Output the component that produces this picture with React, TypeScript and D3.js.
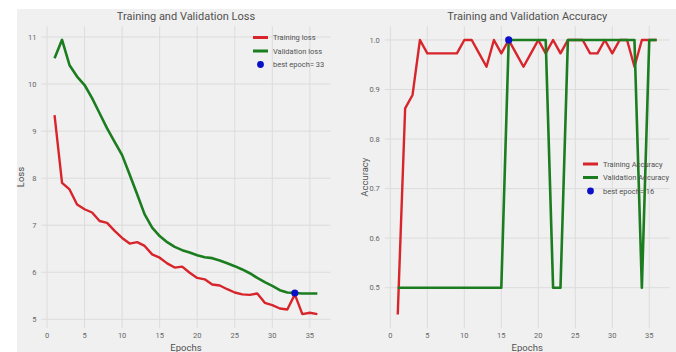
import React from 'react';
import * as d3 from 'd3';

// values
const epochs = d3.range(1, 37);
const trainLoss = [9.34, 7.9, 7.76, 7.44, 7.34, 7.27, 7.09, 7.05, 6.88, 6.73, 6.61, 6.64, 6.56, 6.38, 6.31, 6.19, 6.1, 6.12, 5.99, 5.88, 5.85, 5.74, 5.72, 5.64, 5.57, 5.53, 5.52, 5.55, 5.35, 5.3, 5.23, 5.21, 5.53, 5.11, 5.14, 5.11];
const valLoss = [10.55, 10.94, 10.4, 10.16, 9.98, 9.7, 9.38, 9.06, 8.77, 8.49, 8.08, 7.66, 7.23, 6.95, 6.77, 6.64, 6.54, 6.47, 6.42, 6.36, 6.32, 6.3, 6.25, 6.19, 6.13, 6.06, 5.98, 5.88, 5.79, 5.71, 5.62, 5.57, 5.56, 5.55, 5.55, 5.55];
const trainAcc = [0.446, 0.862, 0.889, 1.0, 0.973, 0.973, 0.973, 0.973, 0.973, 1.0, 1.0, 0.973, 0.946, 1.0, 0.973, 1.0, 0.973, 0.946, 0.973, 1.0, 0.973, 1.0, 0.973, 1.0, 1.0, 1.0, 0.973, 0.973, 1.0, 0.973, 1.0, 1.0, 0.946, 1.0, 1.0, 1.0];
const valAcc = [0.5, 0.5, 0.5, 0.5, 0.5, 0.5, 0.5, 0.5, 0.5, 0.5, 0.5, 0.5, 0.5, 0.5, 0.5, 1.0, 1.0, 1.0, 1.0, 1.0, 1.0, 0.5, 0.5, 1.0, 1.0, 1.0, 1.0, 1.0, 1.0, 1.0, 1.0, 1.0, 1.0, 0.5, 1.0, 1.0];
const bestLossEpoch = 33;
const bestAccEpoch = 16;
const xTicks = [0, 5, 10, 15, 20, 25, 30, 35];
const lossTicks = [5, 6, 7, 8, 9, 10, 11];
const accTicks = [0.5, 0.6, 0.7, 0.8, 0.9, 1.0];

const RED = '#d8252b';
const GREEN = '#1b7d1f';
const BLUE = '#0a0fc8';
const GRID = '#dcdcdc';
const TXT = '#666';
const FONT = 'Roboto, "Liberation Sans", sans-serif';

type PanelProps = {
  left: number; right: number; top: number; bottom: number;
  yDomain: [number, number]; yTicks: number[]; fmt: (v: number) => string;
  train: number[]; val: number[]; best: number;
  title: string; ylabel: string; labels: string[];
  legendX: number; legendY: number;
};

const Panel = (p: PanelProps) => {
  const x = d3.scaleLinear().domain([-0.75, 37.75]).range([p.left, p.right]);
  const y = d3.scaleLinear().domain(p.yDomain).range([p.bottom, p.top]);
  const line = d3.line<number>().x((_, i) => x(epochs[i])).y(d => y(d));
  const cx = (p.left + p.right) / 2;
  const cy = (p.top + p.bottom) / 2;
  const bestVal = p.val[p.best - 1];
  return (
    <g fontFamily={FONT}>
      {p.yTicks.map(t => (
        <g key={'y' + t}>
          <line x1={p.left} x2={p.right} y1={y(t)} y2={y(t)} stroke={GRID} strokeWidth={1} />
          <text x={p.left - 5} y={y(t)} dy="0.35em" textAnchor="end" fontSize={7.5} fill={TXT}>{p.fmt(t)}</text>
        </g>
      ))}
      {xTicks.map(t => (
        <g key={'x' + t}>
          <line x1={x(t)} x2={x(t)} y1={p.top} y2={p.bottom} stroke={GRID} strokeWidth={1} />
          <text x={x(t)} y={p.bottom + 10} textAnchor="middle" fontSize={7.5} fill={TXT}>{t}</text>
        </g>
      ))}
      <path d={line(p.train) || ''} fill="none" stroke={RED} strokeWidth={2.4} strokeLinejoin="round" />
      <path d={line(p.val) || ''} fill="none" stroke={GREEN} strokeWidth={2.6} strokeLinejoin="round" />
      <circle cx={x(p.best)} cy={y(bestVal)} r={3.6} fill={BLUE} />
      <text x={cx} y={p.top - 6} textAnchor="middle" fontSize={11} fill="#505050">{p.title}</text>
      <text transform={`translate(${p.left - 17},${cy}) rotate(-90)`} textAnchor="middle" fontSize={9.5} fill="#505050">{p.ylabel}</text>
      <text x={cx} y={p.bottom + 23} textAnchor="middle" fontSize={9.5} fill="#505050">Epochs</text>
      <g transform={`translate(${p.legendX},${p.legendY})`}>
        <line x1={0} x2={15} y1={0} y2={0} stroke={RED} strokeWidth={3} />
        <line x1={0} x2={15} y1={13.5} y2={13.5} stroke={GREEN} strokeWidth={3} />
        <circle cx={7.5} cy={27} r={3.4} fill={BLUE} />
        {p.labels.map((l, i) => (
          <text key={l} x={20} y={i * 13.5} dy="0.35em" fontSize={7.5} fill="#505050">{l}</text>
        ))}
      </g>
    </g>
  );
};

const App = () => (
  <svg width={676} height={352} style={{ position: 'absolute', left: 0, top: 0 }}>
    <rect x={0} y={0} width={676} height={352} fill="#fff" />
    <rect x={17} y={9} width={659} height={343} fill="#f0f0f0" />
    <Panel left={41.4} right={330.5} top={26.2} bottom={327.8}
      yDomain={[4.82, 11.23]} yTicks={lossTicks} fmt={v => String(v)}
      train={trainLoss} val={valLoss} best={bestLossEpoch}
      title="Training and Validation Loss" ylabel="Loss"
      labels={['Training loss', 'Validation loss', 'best epoch= ' + bestLossEpoch]}
      legendX={253} legendY={37.5} />
    <Panel left={384.8} right={669.6} top={26.1} bottom={328.3}
      yDomain={[0.418, 1.028]} yTicks={accTicks} fmt={v => v.toFixed(1)}
      train={trainAcc} val={valAcc} best={bestAccEpoch}
      title="Training and Validation Accuracy" ylabel="Accuracy"
      labels={['Training Accuracy', 'Validation Accuracy', 'best epoch= ' + bestAccEpoch]}
      legendX={583} legendY={164} />
  </svg>
);

export default App;
